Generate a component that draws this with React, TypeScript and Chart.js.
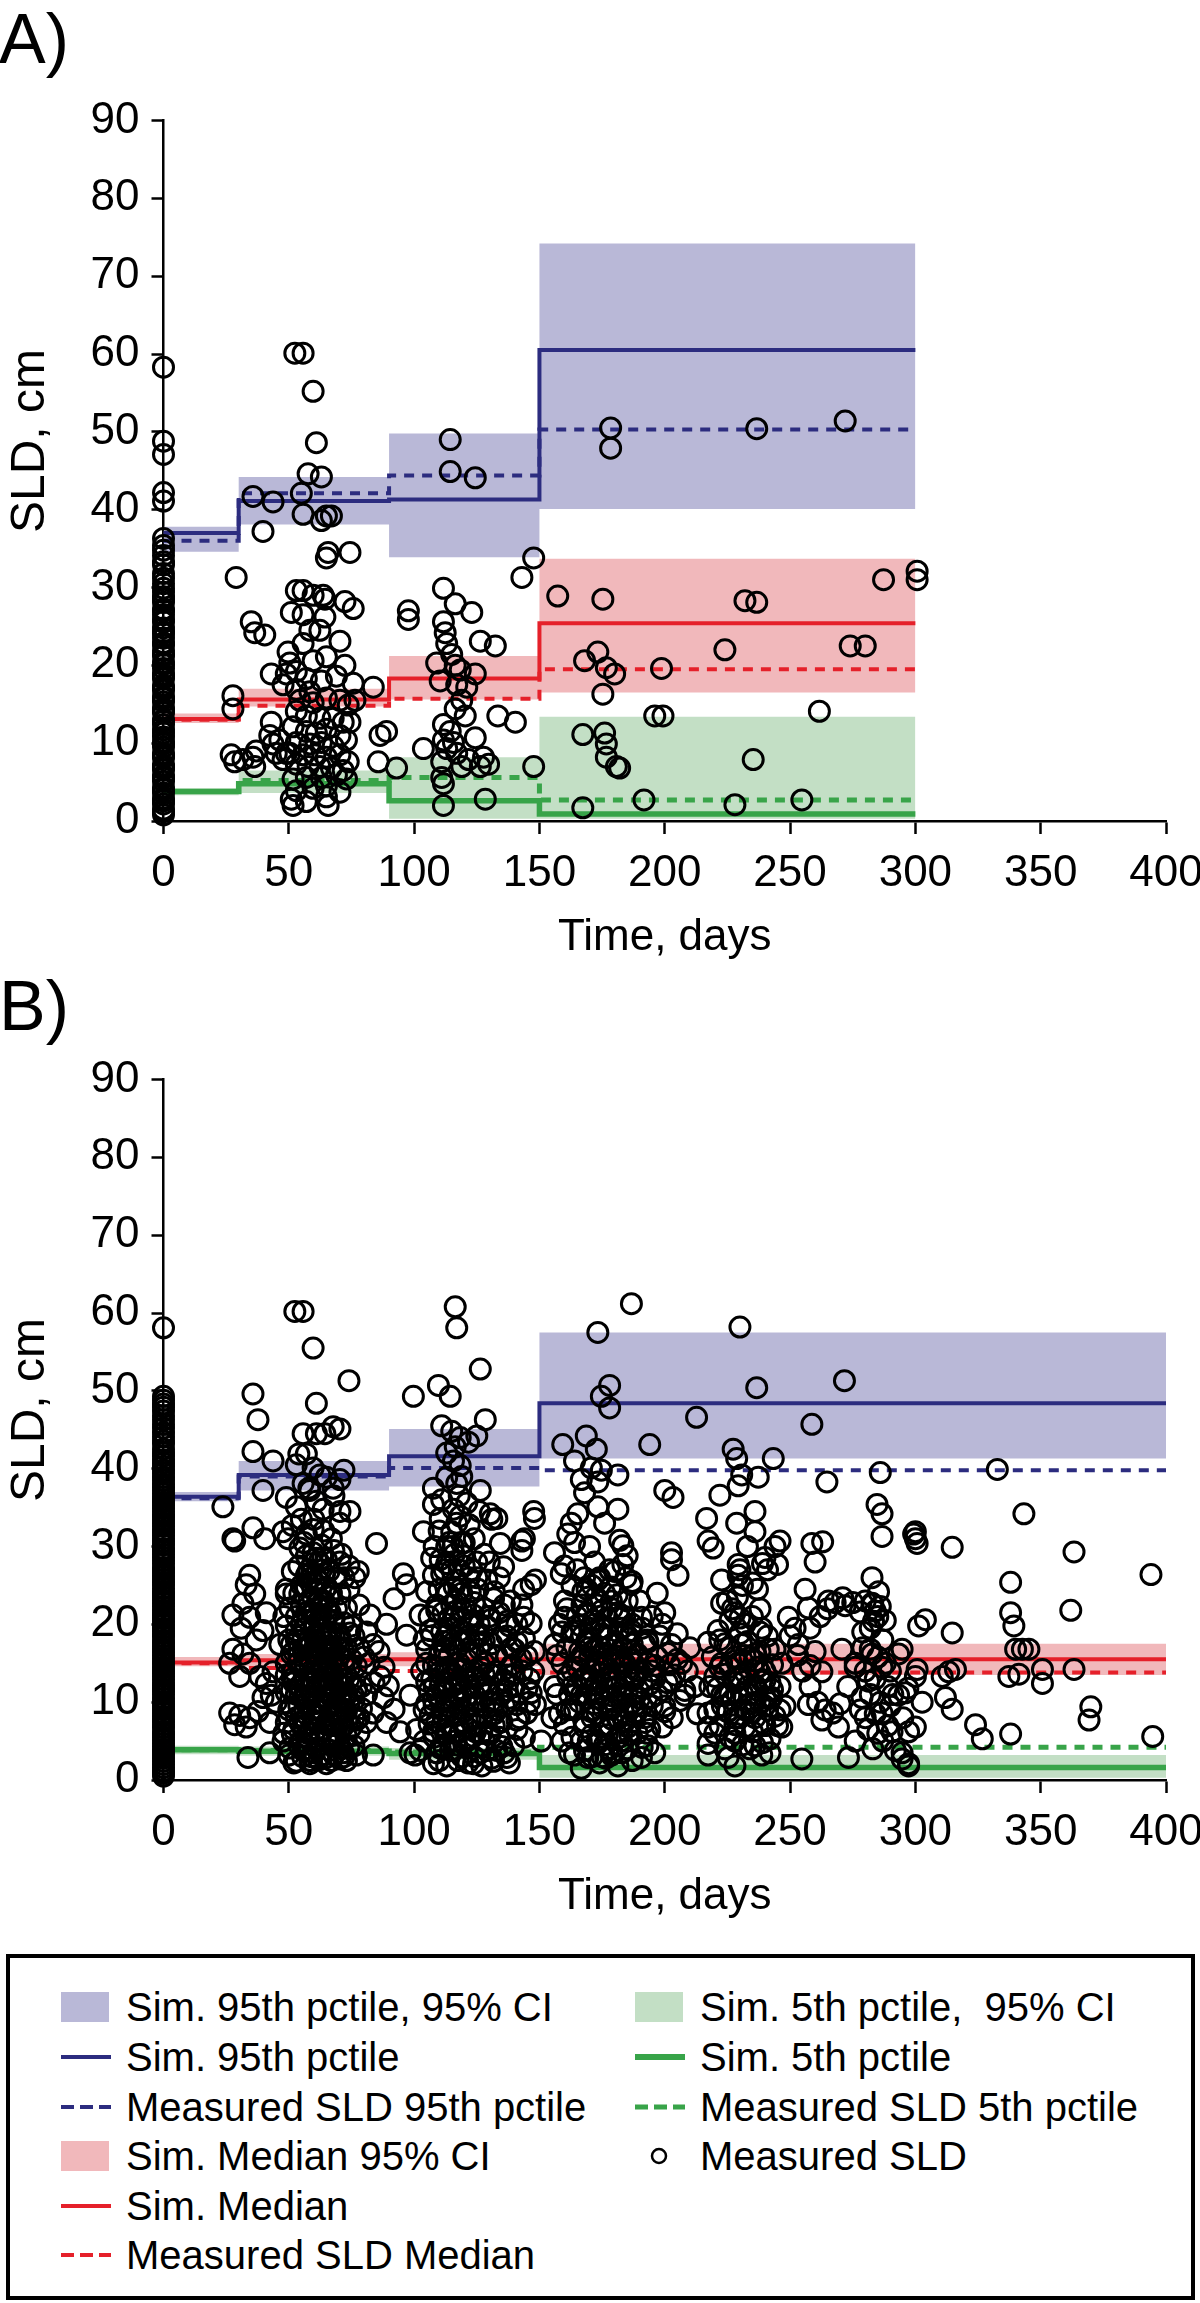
import React, { useEffect, useRef } from "react";
import { Chart, registerables } from "chart.js";

Chart.register(...registerables);

const FONT = '"Liberation Sans", Arial, Helvetica, sans-serif';

const BLUE_BAND = "#b9b8d7";
const NAVY = "#2c2c7f";
const RED_BAND = "#f1b8bb";
const RED = "#e5202a";
const GREEN_BAND = "#c3dfc5";
const GREEN = "#38a449";

// ---------- axis ticks ----------
const xTickLabels = [0, 50, 100, 150, 200, 250, 300, 350, 400];
const yTickLabels = [0, 10, 20, 30, 40, 50, 60, 70, 80, 90];

// ---------- Panel A (bins in days) ----------
const binEdgesA = [0, 30, 90, 150, 300];
const a95Sim = [37.0, 41.1, 41.3, 60.5];
const a95Lo = [34.6, 38.1, 33.9, 40.1];
const a95Hi = [37.8, 44.2, 49.8, 74.2];
const a95Meas = [36.0, 42.1, 44.4, 50.3];
const aMedSim = [13.1, 15.6, 18.3, 25.4];
const aMedLo = [12.6, 14.7, 15.6, 16.5];
const aMedHi = [13.8, 17.0, 21.2, 33.7];
const aMedMeas = [13.0, 14.8, 15.7, 19.5];
const a5Sim = [3.8, 4.8, 2.6, 0.9];
const a5Lo = [3.3, 3.6, 0.3, 0.3];
const a5Hi = [4.2, 6.5, 8.2, 13.4];
const a5Meas = [3.8, 5.2, 5.6, 2.7];

// measured SLD at day 0 (panel A)
const measA0 = [58.3, 48.8, 47.1, 42.2, 41.1, 36.3, 35.4, 34.8, 34.1, 33.3, 32.9, 31.8, 31.2, 30.5, 29.4, 28.8, 28.1, 27.2, 26.5, 25.9, 24.8, 24.3, 23.5, 22.6, 21.9, 21.2, 20.4, 19.6, 18.9, 18.3, 17.4, 16.8, 16.0, 15.3, 14.5, 13.9, 13.0, 12.4, 11.7, 10.8, 10.2, 9.5, 8.7, 8.1, 7.2, 6.6, 5.8, 5.1, 4.3, 3.6, 2.9, 2.2, 1.5,
  29.9, 28.5, 27.0, 25.6, 24.1, 22.9, 21.5, 20.1, 18.6, 17.1, 15.7, 14.2, 12.8, 11.3, 9.9, 8.4, 6.9, 5.5, 4.0, 2.6, 1.2, 0.8];

// measured SLD after day 0 (panel A): [day, cm]
const measA: [number, number][] = [
  [29,31.3],[27.7,16.1],[27.7,14.4],[27,8.5],[28.4,7.6],[35,25.6],[36.4,24.2],[40.4,23.9],[35.7,41.7],[43.7,41],[39.7,37.2],[31.7,7.9],[35.7,8.2],[37,9],[36.4,7],[43,18.9],[43,12.7],[42.4,11],[43.7,9.9],[45,8.7],[46.4,10.4],[49,8.7],[47.7,7.9],
  [52.4,60.1],[55.7,60.1],[59.7,55.2],[61,48.6],[57.7,44.6],[63,44.2],[55,42.1],[55.7,39.4],[63,38.6],[65,39.2],[67,39.2],[65.7,34.5],[74.4,34.5],[65,33.8],
  [53,29.6],[55.7,29.6],[59.7,29],[63.7,29],[64.4,28.5],[72.4,28.2],[75.7,27.3],[51,26.8],[55.7,26.5],[64.4,26.2],[58.4,24.5],[62.4,24.5],[70.4,23.1],[55.7,22.8],[49.7,21.7],[65,21.1],[50.4,20.3],[59.7,20.6],[72.4,20],[49,18.9],[53,19.2],[57,18.3],[63,18],[69,18.6],[47.7,17.5],[53,16.9],[58.4,16.6],[54.4,15.5],[59.7,15.2],[65,15.8],[70.4,15.5],[73.7,14.9],[53,14.1],[57,13.5],[62.4,13.2],[67.7,13.2],[71.7,12.7],[74.4,12.7],[51.7,12.1],[57,11.5],[61,11.3],[65,11.8],[70.4,11],[53,10.1],[58.4,9.9],[63,10.1],[67.7,9.6],[73,10.4],[50.4,8.7],[55.7,8.5],[60.4,8.5],[65,8.2],[70.4,8.5],[73.7,7.6],[53,7.3],[57.7,7],[62.4,7],[67,6.8],[71.7,6.5],[51.7,5.4],[57,5.6],[63,5.6],[69,5.9],[73,5.4],[53,3.9],[59.7,4.2],[65,4.5],[70.4,3.7],[51,2.8],[57,2.5],[65,3.1],[51.7,2],[65.7,2],
  [83.7,17.2],[86.4,11],[89,11.5],[85.7,7.6],[93,6.8],[75.7,17.7],[76.4,15.5],
  [97.7,27],[97.7,25.9],[103.7,9.3],[114.4,49],[114.4,44.9],[124.4,44.1],
  [111.7,29.9],[116.4,27.9],[123,26.8],[111.7,25.6],[112.4,24.2],[113,22.8],[126.4,23.1],[132.4,22.5],[115,21.4],[116.4,20],[118.4,19.4],[109,20.3],[124.4,18.9],[110.4,18],[117,17.5],[121,17.2],[119,15.5],[116.4,14.4],[120.4,13.5],[133.4,13.5],[140.4,12.7],[111.7,12.4],[114.4,11.5],[111.7,10.4],[115.7,10.1],[124.4,10.7],[113,9.3],[117,8.7],[121.7,7.9],[127.7,8.2],[129.7,7.3],[126.4,7],[119,7],[111,7.6],[111,5.6],[111.7,4.8],[111.7,2],[128.4,2.8],[147.7,7],[143,31.3],[147.7,33.8],
  [157.3,28.9],[175.3,28.5],[178.4,50.5],[178.4,47.9],[236.7,50.4],[272,51.4],[287.3,31],[300.7,32.1],[300.7,31],[232,28.3],[236.7,28.1],[274,22.5],[280,22.5],[224,22],[173.3,21.7],[168,20.6],[176.7,19.7],[180,18.9],[198.7,19.6],[175.3,16.3],[196,13.5],[199.3,13.5],[261.7,14.1],[167.3,11.1],[176,11.3],[176.7,9.9],[176.7,8.2],[180.7,7],[182,6.8],[235.3,7.9],[167.3,1.7],[191.7,2.7],[228,2.1],[254.7,2.7],
];

// ---------- Panel B ----------
const binEdgesB = [0, 30, 90, 150, 400];
const b95Sim = [36.4, 39.2, 41.6, 48.4];
const b95Lo = [35.8, 37.2, 37.7, 41.3];
const b95Hi = [37.0, 41.0, 45.1, 57.5];
const b95Meas = [36.2, 39.0, 40.1, 39.8];
const bMedSim = [15.1, 15.4, 15.5, 15.5];
const bMedLo = [14.6, 14.6, 14.6, 13.5];
const bMedHi = [15.8, 16.2, 16.4, 17.5];
const bMedMeas = [15.0, 14.4, 14.0, 13.8];
const b5Sim = [3.9, 3.7, 3.4, 1.6];
const b5Lo = [3.3, 3.1, 2.6, 0.3];
const b5Hi = [4.4, 4.3, 4.1, 3.2];
const b5Meas = [3.9, 3.8, 3.6, 4.2];

const measB0 = [58.1, 49.3, 48.3, 47.4, 46.3, 45.2, 44.1, 43.2, 42.0, 41.1, 40.3, 39.4, 38.5, 37.6, 36.8, 36.0, 35.3, 34.5, 33.8, 33.0, 32.1, 31.4, 30.6, 29.7, 29.0, 28.2, 27.3, 26.6, 25.8, 25.1, 24.2, 23.5, 22.7, 21.8, 21.1, 20.3, 19.5, 18.8, 17.9, 17.2, 16.4, 15.6, 14.9, 14.0, 13.3, 12.5, 11.7, 11.0, 10.1, 9.4, 8.6, 7.8, 7.1, 6.2, 5.5, 4.7, 3.9, 3.2, 2.4, 1.6, 0.9,
  48.8, 47.9, 46.8, 45.7, 44.6, 43.6, 42.5, 41.6, 40.7, 39.8, 38.9, 38.0, 37.2,
  36.4, 35.7, 34.9, 34.1, 33.4, 32.6, 31.8, 31.0, 30.2, 29.4, 28.6, 27.8, 27.0, 26.2, 25.4, 24.6, 23.9, 23.1, 22.3, 21.5, 20.7, 19.9, 19.1, 18.4, 17.6, 16.8, 16.0, 15.2, 14.4, 13.7, 12.9, 12.1, 11.4, 10.5, 9.8, 9.0, 8.2, 7.5, 6.7, 5.9, 5.1, 4.3, 3.6, 2.8, 2.0, 1.2, 0.5];

const measB: [number, number][] = [
  [23.7,35.1],[27.7,31],[28.4,30.7],[35.7,49.6],[37.7,46.3],[35.7,42.2],[43.7,41],[39.7,37.2],[35.7,32.4],[40.4,31],[34.4,26.3],[33,25.1],[36.4,23.9],[31.7,22.7],[27.7,21.2],[34.4,20.9],[31,19.5],[39.7,19.2],[37,18],[27.7,16.8],[31.7,16.2],[26.4,15],[34.4,15],[30.4,13.3],[38.4,13.3],[41,12.4],[43,10.9],[45,10],[39.7,10.6],[26.4,8.6],[30.4,8.3],[34.4,8],[37.7,8.8],[28.4,7.1],[33,6.8],[42.4,7.4],[33.7,2.9],[42.4,3.5],[47.7,5],[43.7,13.9],[46.4,17.4],[41,21.5],[49,23.9],[47.7,31.9],
  [52.4,60.2],[55.7,60.2],[59.7,55.5],[61,48.4],[74,51.3],[61,44.5],[64.4,44.5],[67.7,45.4],[70.4,45.1],[55.7,44.5],[54,41.9],[57,41.9],[59.7,40.1],[62.4,39.2],[65,38.9],[70.4,38.6],[55.7,38.1],[67.7,37.5],[58.4,37.2],[49,36.3],[53,35.1],[63.7,34.8],[70.4,34.5],[74.4,34.5],[51.4,32.7],[59.7,32.2],[70.4,33],[49.7,31],[54.4,29.8],[59.7,29.2],[65,28.3],[70.4,28],[77.7,26.8],[76.4,26],[51.4,26.8],[57,26.3],[49,24.5],[54.4,23.9],[59.7,24.5],[65,24.8],[70.4,23.9],[73,22.1],[50.4,22.1],[57,21.5],[63,21.2],[67.7,20.4],[49,19.8],[53,19.2],[59.7,19.2],[65,18.6],[70.4,18.3],[74.4,18.9],[51,17.4],[55.7,16.8],[61,17.1],[66.4,16.5],[71.7,16.8],[49,15],[53.7,15],[58.4,14.5],[63.7,14.7],[69,14.2],[74.4,14.5],[51.4,13],[56.4,12.7],[61,13],[66.4,12.4],[71.7,12.1],[49,11.2],[54.4,10.9],[59.7,11.2],[65,10.6],[70.4,10.6],[75.7,10.9],[51,9.4],[56.4,9.1],[61.7,9.1],[67,8.8],[72.4,9.1],[49,7.4],[54.4,7.4],[59.7,7.7],[65,7.1],[70.4,7.4],[77,7.7],[51.4,5.9],[57,5.6],[62.4,5.9],[67.7,5.3],[73,5.6],[50.4,4.1],[55.7,3.8],[61,4.1],[66.4,3.8],[71.7,3.5],[53,2.4],[58.4,2.1],[65,2.1],[70.4,2.7],[77,3.2],[83.7,3.2],
  [52,14],[56,17],[60,13.8],[62,16],[66,14],[68,12],[54,12],[58,10.5],[63,9],[67,11],[71,10],[55,20],[61,21],[64,23],[69,22],[58,27],[62,25.5],[66,26.8],[52,24],[60,6],[64,6.5],[68,4.5],[55,5],[59,3],[62,2.6],[57,9.8],[53,8],[66,17.8],[70,16],[72,14.8],[75,12.5],[74,9.8],[76,8],[78,6],[76,4.4],[79,12],[80,15.8],[81,19],[78,22.5],[57,31.6],[63,30.2],[67,31],[61,35.8],[55,33.5],[58,37.5],[53,40.5],[68,36.5],[72,39.8],
  [50,3.2],[52,6.5],[54,9.5],[56,13],[58,15.8],[60,18.5],[62,20.5],[64,12.8],[66,9.6],[68,7],[70,5],[72,3],[51,11.5],[53,18],[55,22.5],[57,24.8],[59,26],[61,28.5],[63,27],[65,22],[67,19],[69,17.2],[71,13.5],[73,11.2],[54,27.5],[56,30.5],[60,33.5],[64,32],[68,29.5],[72,26],[74,24.5],[52,16.5],[55,14.5],[57,7.2],[59,9],[61,11.8],[63,14.5],[65,16.2],[67,15],[69,9.8],[71,7.8],[73,17],[75,19.8],[77,14.6],[79,9.2],[81,11],[82,15],[84,12.5],[86,16.5],[88,14.5],
  [85,30.4],[82.4,21.2],[83.7,17.4],[89,20],[92,23.3],[86.4,13.3],[89.7,12.1],[87.7,10.6],[92,9.1],[83.7,8.6],[89,7.4],[81,7.4],[95.7,26.5],[97,25.1],[99.7,49.3],[97,18.6],[98.4,10.9],[94.4,6.2],[98.4,3.5],[102.4,3.8],
  [116.4,60.8],[117,58.1],[126.4,52.8],[109.7,50.7],[114.4,49.3],[128.4,46.3],[115,44.8],[118.4,44],[116.4,42.8],[121.7,43.4],[125,44.2],[115.7,41],[118.4,40.4],[113,38.9],[117,38.1],[107.7,37.5],[126.4,37.2],[111,36],[115.7,34.8],[107.7,35.4],[118.4,33.9],[110.4,33.6],[130.4,34.2],[133,33.6],[103.7,31.9],[115,31.9],[119,30.4],[134.4,30.4],[143,30.7],[143,29.5],[147.7,34.5],[110.4,28.3],[125,28],[135.7,27.4],[143.7,24.5],[148.4,25.7],[107.7,26.3],[117,25.7],[129,25.7],[105,24.2],[113,23.9],[122.4,24.2],[131.7,23.3],[138.4,23],[102.4,21.2],[109,21.8],[115.7,20.9],[123.7,21.2],[130.4,20.6],[137,20.4],[143.7,20.9],[106.4,19.2],[113,18.6],[118.4,19.2],[125,18.6],[134.4,18.3],[141,17.7],[105,16.8],[110.4,16.5],[117,16.8],[122.4,16.2],[129,16.2],[137,15.9],[145,15.9],[107.7,14.7],[113,14.5],[119.7,14.2],[126.4,14.5],[133,13.9],[139.7,13.6],[147.7,13.9],[105,12.7],[110.4,12.1],[116.4,12.4],[122.4,12.1],[129,11.8],[137,11.5],[145,11.8],[107.7,10.3],[113,10],[118.4,10.3],[123.7,9.7],[130.4,10],[141,9.7],[148.4,9.7],[106.4,8.3],[111.7,8],[117,8.3],[122.4,7.7],[129,8],[134.4,7.4],[141,7.7],[107.7,6.2],[113,5.9],[118.4,6.2],[123.7,5.6],[130.4,5.9],[110.4,4.1],[115.7,3.8],[121,4.1],[126.4,3.5],[133,3.8],[139.7,4.4],[107.7,2.1],[113,1.8],[123.7,2.1],[131.7,2.4],[137,2.9],[100.4,3.2],
  [108,30],[112,27],[116,29],[120,27.5],[125,26],[128,22],[114,19.5],[119,21.8],[122,18],[126,20],[110,16],[114,14],[118,12.8],[121,10.8],[125,13.2],[128,15],[131,17.5],[134,12.3],[136,9.5],[139,14.8],[142,11.2],[145,8.6],[112,9],[116,6.8],[120,4.8],[124,3],[128,5],[132,7],[135,4.3],[138,2.2],[109,7.5],[106,11.5],[104,18],[103,14],[101,6.5],[117,33],[121,35.6],[124,31],[128,29],[131,33.5],[113,42],[119,39],[111,45.5],
  [104,9],[106,21],[108,12],[109,3.5],[110,24.5],[111,19],[112,11.8],[113,6.5],[114,16],[115,22.5],[116,10.5],[117,4.5],[118,15],[119,24],[120,8.8],[121,13],[122,20],[123,27],[124,11],[125,7],[126,16.8],[127,12.5],[128,9.5],[129,19.8],[130,6],[131,13.5],[132,10],[133,16],[134,21.5],[135,7.5],[136,12.8],[137,18.5],[138,10.5],[140,16.8],[141,6.5],[143,14],[144,18.2],[146,10],[110,32],[114,30.5],[118,36.5],[122,32.8],[126,34.5],[130,28],[113,27.8],[107,28.5],[105,9.8],[127,1.8],
  [186.7,61.2],[173.3,57.5],[230,58.2],[178,50.7],[174.7,49.3],[178,47.8],[236.7,50.4],[271.7,51.3],[212.7,46.6],[258.7,45.7],[159.3,43.1],[168.7,44.2],[172.7,42.5],[194,43.1],[164,41],[170.7,40.1],[174.7,39.8],[181.3,39.2],[227.3,42.5],[228.7,41.3],[243.3,41.3],[166.7,38.6],[173.3,38.3],[230.7,39.2],[237.3,38.9],[286,39.5],[264.7,38.3],[168,36.9],[203.3,36.3],[200,37.2],[222,36.6],[229.3,37.8],[173.3,35.1],[181.3,34.8],[165.3,34.2],[284.7,35.4],[286.7,34.2],[148,33.6],[162.7,33],[176,33],[216.7,33.6],[228.7,33],[161.3,31.6],[236,31.9],[286.7,31.3],[144,31],[217.3,30.7],[219.3,29.8],[246,30.7],[258.7,30.4],[299.3,31.6],[300.7,30.4],[156,29.2],[183.3,30.1],[202.7,28.3],[202.7,29.2],[240,28.6],[229.3,27.7],[245,27.7],[158.7,26.5],[183.3,27.7],[222.7,25.7],[229.3,26.3],[146.7,25.1],[173.3,25.7],[186.7,25.1],[205.3,26.3],[282.7,26],[285.3,24.2],[167.3,24.2],[178.7,23],[222.7,22.7],[228,21.5],[265.3,23],[272,22.4],[280,23],[282.7,22.7],[257.3,22.1],[160,20.9],[169.3,21.2],[181.3,21.5],[190.7,20.9],[200,21.5],[249.3,20.9],[146.7,20.1],[164,19.2],[174.7,19.5],[186.7,19.2],[221.3,19.2],[238.7,19.5],[252,19.5],[283.3,20.4],[301.3,19.8],
  [156,17.4],[169.3,17.7],[178.7,17.4],[193.3,17.7],[202.7,17.4],[217.3,17.7],[230.7,17.4],[241.3,16.8],[253.3,17.4],[260,16.5],[270.7,16.8],[282.7,16.2],[293.3,16.2],[142.7,15.6],[165.3,15.3],[173.3,15],[182.7,15.3],[196,14.7],[206.7,15],[222.7,15],[236,15.3],[246.7,15],[258,14.7],[276,15],[286.7,14.5],[161.3,13.3],[170.7,13],[177.3,13.3],[188,13],[202.7,12.7],[220,13.3],[229.3,13],[238.7,12.7],[262.7,13.9],[281.3,12.7],[300,13.3],[146.7,11.2],[166.7,10.9],[173.3,11.2],[182.7,10.9],[194.7,10.6],[208,10.9],[222.7,10.9],[240,10.6],[242.7,10.6],[257.3,9.7],[278.7,10.6],[293.3,10.9],[162.7,9.1],[170.7,8.8],[178.7,9.1],[188,8.6],[200,8.8],[217.3,8.6],[225.3,8.8],[234.7,8.6],[262.7,7.7],[269.3,6.8],[280,8],[286.7,8.6],[160,7.1],[168,6.8],[176,7.1],[185.3,6.8],[192,7.4],[217.3,6.8],[228,7.1],[246.7,6.8],[290.7,6.2],[150.7,5],[166.7,5],[173.3,4.7],[182.7,5],[193.3,4.4],[217.3,4.7],[228,5],[236,4.4],[276,5],[164,3.2],[169.3,2.9],[178.7,3.2],[190.7,2.9],[217.3,3.2],[225.3,2.9],[238.7,3.2],[254.7,2.7],[273.3,2.9],[294.7,2.7],[166.7,1.5],[181.3,1.8],[228,1.8],[297.3,1.8],
  [158,20],[161,17],[163,14],[165,12],[167,22.5],[169,18],[170,15.8],[171,11.5],[172,9.8],[174,13.8],[175,21.8],[177,16],[178,11.8],[179,7.8],[180,13],[181,23.8],[183,17],[184,12],[185,9.2],[186,15.5],[187,20],[188,11],[189,6],[190,14],[192,17.5],[194,12.3],[195,9.5],[197,15.8],[199,11.5],[201,16.3],[204,13.5],[206,10.2],[209,14],[212,12],[160,27.5],[164,30.5],[168,26],[172,28],[176,24],[180,26.8],[185,28.8],[190,23],[163,5.5],[168,3.8],[171,5.8],[176,4.5],[183,3.5],[186,5.8],[191,4.2],[196,3.5],
  [156,12],[158,8.5],[159,15],[160,23],[162,11],[163,19],[164,9],[166,16.5],[167,13],[168,7.5],[169,24.5],[170,19.5],[171,3],[172,16.8],[173,8.5],[174,26],[175,12.5],[176,7],[177,20.8],[178,14.2],[179,22],[180,10],[181,17.5],[182,5.5],[183,14.5],[184,21],[185,11],[186,18.2],[187,7.5],[188,13.5],[189,16.2],[190,10.5],[191,19.5],[192,8],[193,15],[194,6.5],[196,13],[198,18.5],[200,9.5],[202,14.8],[205,18.8],[208,11.5],[165,27],[170,30],[178,27],[182,30.8],[187,25.5],
  [219,15.8],[221,11.8],[223,9.5],[224,13.6],[226,17],[227,10.3],[228,12.5],[229,15],[230,8],[231,11.1],[232,13.8],[233,17.8],[234,9.8],[235,6.2],[236,12.2],[237,14.5],[238,10],[239,7.3],[240,12.8],[241,9],[242,5.3],[243,11.6],[244,8.2],[226,20.5],[229,23.5],[232,20],[235,25.3],[238,22],[241,27],[244,30],
  [220,6],[222,18],[224,4],[225,8.8],[226,14.5],[227,22],[228,6],[229,10.8],[230,18.8],[231,4.5],[232,9],[233,12],[234,15.8],[235,21],[236,8],[237,11.5],[238,16.5],[239,4.8],[240,14],[241,18.5],[242,10.5],[243,14.8],[245,7],[246,12],[248,9.5],[230,27],[233,30],[236,34.5],
  [250,18.5],[253,16],[255,14],[258,12],[261,10],[264,9],[267,8.6],[270,9.8],[273,12],[276,14.5],[279,17],[282,19.5],[284,21.7],[286,22.3],[283,22.6],[285,21],[287,18],[288,15],[289,12],[290,9.5],[282,11],[284,8.5],[285,6],[292,3.8],[295,8],[297,11.8],[262,21],[265,22],[268,22.8],[271,23.4],[275,22.8],[278,21.6],[258,19.5],[256,24.5],[260,28],[263,30.6],
  [332.7,39.9],[343.3,34.2],[300,31.9],[300,31],[314.7,29.9],[363.3,29.3],[394,26.4],[338,25.4],[304,20.6],[362,21.8],[314.7,18.9],[338,21.5],[339.3,19.8],[294.7,16.8],[340,16.8],[342.7,16.8],[345.3,16.8],[300.7,14.2],[310.7,13.3],[313.3,13.9],[316,14.2],[337.3,13.3],[341.3,13.6],[350.7,14.2],[350.7,12.4],[363.3,14.2],[296,11.2],[302.7,10],[312,10.6],[314.7,9.1],[370,9.4],[369.3,7.7],[324,7.1],[326.7,5.3],[338,5.9],[300,6.8],[297.3,6.2],[394.7,5.6],[297.3,2.1],[294.7,3.5],
];

// the densest clusters of panel B (visit windows around days 60, 120, 175, 230, 285)
const measBDense: [number, number][] = [
  [48,6],[50,9],[52,12.5],[54,16],[56,19.5],[58,23],[60,25.5],[62,28],[64,26.5],[66,23.5],[68,20.5],[70,18.8],[72,15.5],[74,13],[76,10.2],[78,8],[49,13.5],[51,16.2],[53,21],[55,25],[57,28.8],[59,21.5],[61,18],[63,16.8],[65,13.2],[67,8.2],[69,6.2],[71,4],[73,2.5],[75,6.8],[77,11.8],[52,2.2],[54,4.5],[56,6.8],[58,5.2],[60,3.5],[62,8.2],[64,10.5],[66,5.8],[68,3.2],[70,12.2],[72,20.2],[74,27.5],[56,10.5],[59,12.5],[61,15.2],[63,19.5],[65,20.8],[67,24],[69,26],[71,29],[55,8.2],[53,11],[50,18],[48,21],[58,18],[60,21.5],[62,23],[64,17.8],[66,12],[68,15.8],[70,9],[72,7],[74,4.2],[57,4],[61,6.5],[63,3.2],[65,5.2],[67,2.5],[69,12.8],[71,11],[73,8.8],[75,15.5],[76,18.5],[78,17],
  [104,5],[106,7.2],[108,9.5],[110,13.8],[112,16.8],[114,20.8],[116,24.8],[118,27],[120,30.5],[122,26],[124,22.8],[126,18.5],[128,13.5],[130,11.5],[132,8.5],[134,5.5],[136,3.5],[105,15],[107,18.5],[109,22.5],[111,26.5],[113,30],[115,27],[117,23],[119,18],[121,15.5],[123,14],[125,10],[127,6],[129,3.8],[131,2.8],[133,9],[135,11],[137,13.5],[139,17],[141,20],[143,22.5],[108,5.5],[110,2.5],[112,4.2],[114,8.8],[116,12.2],[118,9.2],[120,11.5],[122,5.2],[124,8],[126,12],[128,17.8],[130,21],[132,24.2],[134,26],[136,22.5],[138,19.8],[140,12],[142,8],[144,5.5],[146,13],[148,16.5],[115,17.5],[119,3],[121,6.8],[117,14.2],[113,12.5],[111,7],[109,11],[107,13],
  [155,8],[157,11],[159,5],[161,9],[163,12],[165,14.5],[167,18.5],[169,21.5],[171,25],[173,22.5],[175,18.8],[177,13],[179,10.8],[181,8],[183,6.2],[185,4],[187,2.5],[189,8.8],[191,12.5],[193,18],[195,21],[197,24],[199,20],[157,16],[159,19],[161,22],[163,25],[165,21],[167,16],[169,12.5],[171,8],[173,5],[175,3],[177,5.8],[179,3.5],[181,12],[183,19.5],[185,23],[187,17.5],[189,14],[191,9.5],[193,6],[195,14],[197,11],[199,6.8],[201,12.5],[203,8],[205,15.5],[210,17],[213,8.5],[166,10],[168,13.2],[170,17],[172,20],[174,10.5],[176,14.8],[178,18.5],[180,16],[182,21],[184,15],[186,13],[188,9.5],[174,2.2],[178,7],[184,7.5],[162,3.5],
  [218,12],[220,9],[222,14.5],[224,17.5],[226,11],[228,8],[230,13.2],[232,16],[234,11],[236,10],[238,13.8],[240,9.5],[242,12.5],[244,16.8],[246,9],[222,7],[224,10.8],[226,5.5],[228,15.8],[230,20.8],[232,6.8],[234,4],[236,16.2],[238,19],[240,7],[242,3.5],[225,23],[231,25],[237,24.5],[239,27.8],
  [280,14],[281,6.5],[282,16.8],[283,4],[284,13],[285,15.8],[286,10],[287,5],[288,20.5],[289,7],[290,14],[291,11],[278,9],[279,19],
  // darkest cores
  [55.5,3],[57.5,6],[59.5,8.5],[61.5,10],[63.5,12],[65.5,14.8],[67.5,17],[56.5,15],[58.5,17.2],[60.5,20],[62.5,22],[64.5,24.5],[66.5,21.5],[55.5,18],[57.5,20.5],[59.5,23.5],[61.5,25.8],[63.5,22.8],[65.5,19],[67.5,13.5],[56.5,11.8],[58.5,13],[60.5,16.5],[62.5,18.8],[64.5,15.5],[66.5,10.8],[68.5,8.5],[60.5,9.8],[62.5,5],[64.5,2.8],[58.5,2.5],[66.5,7.5],[57.5,26.5],[63.5,28.5],[59.5,27.8],
  [110.5,10],[112.5,14],[114.5,18],[116.5,21],[118.5,24.5],[120.5,22],[122.5,16.5],[124.5,13],[111.5,21.5],[113.5,24],[115.5,13.5],[117.5,11],[119.5,7.5],[121.5,9.5],[123.5,20.5],[125.5,24.5],[112.5,6],[114.5,3.8],[116.5,5],[118.5,20.8],[120.5,17.8],[122.5,12],[109.5,14.5],[111.5,17.8],[113.5,9.5],[115.5,30],[119.5,28.8],[117.5,2.5],[121.5,2.2],[124.5,6.2],
  [168.5,11],[170.5,14],[172.5,12.2],[174.5,17],[176.5,19.5],[178.5,9.5],[180.5,12],[182.5,15.8],[184.5,18.8],[186.5,9.8],[169.5,5],[171.5,20.5],[173.5,15.2],[175.5,9.2],[177.5,4],[179.5,15.5],[181.5,19],[183.5,10.5],[185.5,13.8],[187.5,15],[166.5,19.8],[172.5,23.5],[178.5,24.8],[184.5,26],[170.5,9],[176.5,2.8],[180.5,5.2],[174.5,6.8],
];

// ---------- helpers ----------
function steps(edges: number[], vals: number[]) {
  return edges.map((x, i) => ({ x, y: vals[Math.min(i, vals.length - 1)] }));
}

type PanelSpec = {
  edges: number[];
  hi95: number[]; lo95: number[]; sim95: number[]; meas95: number[];
  hiMed: number[]; loMed: number[]; simMed: number[]; measMed: number[];
  hi5: number[]; lo5: number[]; sim5: number[]; meas5: number[];
  zeroCol: number[];
  pts: [number, number][];
  titleY: number;
};

const yTitlePlugin = {
  id: "ytitle",
  afterDraw(chart: any, _args: any, opts: any) {
    const ctx = chart.ctx;
    ctx.save();
    ctx.translate(opts.x, opts.y);
    ctx.rotate(-Math.PI / 2);
    ctx.font = `48px ${FONT}`;
    ctx.fillStyle = "#000";
    ctx.textAlign = "center";
    ctx.textBaseline = "middle";
    ctx.fillText(opts.text, 0, 0);
    ctx.restore();
  },
};

function buildConfig(p: PanelSpec): any {
  const bandPair = (hi: number[], lo: number[], color: string) => [
    { data: steps(p.edges, hi), stepped: "before", borderColor: "rgba(0,0,0,0)", borderWidth: 1, pointRadius: 0, fill: "+1", backgroundColor: color, order: 5 },
    { data: steps(p.edges, lo), stepped: "before", borderColor: "rgba(0,0,0,0)", borderWidth: 1, pointRadius: 0, fill: false, order: 5 },
  ];
  const stepLine = (vals: number[], color: string, width: number, dashed: boolean) => ({
    data: steps(p.edges, vals), stepped: "before", borderColor: color, borderWidth: width,
    borderDash: dashed ? [10, 8] : [], pointRadius: 0, fill: false, order: dashed ? 3 : 2, clip: false,
  });
  const points = [
    ...p.zeroCol.map((y) => ({ x: 0, y })),
    ...p.pts.map(([x, y]) => ({ x, y })),
  ];
  return {
    type: "line",
    data: {
      datasets: [
        ...bandPair(p.hi95, p.lo95, BLUE_BAND),
        ...bandPair(p.hiMed, p.loMed, RED_BAND),
        ...bandPair(p.hi5, p.lo5, GREEN_BAND),
        stepLine(p.meas95, NAVY, 4, true),
        stepLine(p.measMed, RED, 4, true),
        stepLine(p.meas5, GREEN, 5, true),
        stepLine(p.sim95, NAVY, 4, false),
        stepLine(p.simMed, RED, 4, false),
        stepLine(p.sim5, GREEN, 5.5, false),
        {
          data: points, showLine: false, pointRadius: 10, pointBorderWidth: 3,
          pointBorderColor: "#000", pointBackgroundColor: "rgba(0,0,0,0)", order: 1, clip: false,
        },
      ],
    },
    options: {
      responsive: false,
      animation: false,
      devicePixelRatio: 1,
      events: [],
      elements: { line: { tension: 0 } },
      layout: { padding: { top: 120.5, left: 0, right: 34, bottom: 0 } },
      plugins: {
        legend: { display: false },
        tooltip: { enabled: false },
        ytitle: { x: 31, y: p.titleY, text: "SLD, cm" },
      },
      scales: {
        x: {
          type: "linear", position: "bottom",
          min: xTickLabels[0], max: xTickLabels[xTickLabels.length - 1],
          afterBuildTicks: (s: any) => { s.ticks = xTickLabels.map((v) => ({ value: v })); },
          ticks: { font: { family: FONT, size: 44 }, color: "#000", padding: 13, maxRotation: 0, autoSkip: false },
          grid: { display: true, drawOnChartArea: false, drawTicks: true, tickLength: 13, tickWidth: 2.5, tickColor: "#000" },
          border: { display: true, color: "#000", width: 2.5 },
          title: { display: true, text: "Time, days", font: { family: FONT, size: 44 }, color: "#000", padding: { top: 0, bottom: 11 } },
          afterFit: (s: any) => { s.height = 154; s.paddingLeft = 0; s.paddingRight = 0; },
        },
        y: {
          type: "linear",
          min: yTickLabels[0], max: yTickLabels[yTickLabels.length - 1],
          afterBuildTicks: (s: any) => { s.ticks = yTickLabels.map((v) => ({ value: v })); },
          ticks: { font: { family: FONT, size: 44 }, color: "#000", padding: 12, autoSkip: false },
          grid: { display: true, drawOnChartArea: false, drawTicks: true, tickLength: 12, tickWidth: 2.5, tickColor: "#000" },
          border: { display: true, color: "#000", width: 2.5 },
          afterFit: (s: any) => { s.width = 163.5; s.paddingTop = 0; s.paddingBottom = 0; },
        },
      },
    },
    plugins: [yTitlePlugin],
  };
}

const panelA: PanelSpec = {
  edges: binEdgesA,
  hi95: a95Hi, lo95: a95Lo, sim95: a95Sim, meas95: a95Meas,
  hiMed: aMedHi, loMed: aMedLo, simMed: aMedSim, measMed: aMedMeas,
  hi5: a5Hi, lo5: a5Lo, sim5: a5Sim, meas5: a5Meas,
  zeroCol: measA0, pts: measA, titleY: 441,
};
const panelB: PanelSpec = {
  edges: binEdgesB,
  hi95: b95Hi, lo95: b95Lo, sim95: b95Sim, meas95: b95Meas,
  hiMed: bMedHi, loMed: bMedLo, simMed: bMedSim, measMed: bMedMeas,
  hi5: b5Hi, lo5: b5Lo, sim5: b5Sim, meas5: b5Meas,
  zeroCol: measB0, pts: [...measB, ...measBDense], titleY: 451,
};

function PanelChart({ top, spec }: { top: number; spec: PanelSpec }) {
  const ref = useRef<HTMLCanvasElement>(null);
  useEffect(() => {
    const chart = new Chart(ref.current as HTMLCanvasElement, buildConfig(spec));
    return () => chart.destroy();
  }, [spec]);
  return (
    <canvas
      ref={ref}
      width={1200}
      height={975}
      style={{ position: "absolute", left: 0, top, width: 1200, height: 975 }}
    />
  );
}

type LegendItem = { kind: "box" | "line" | "dash" | "circle"; color?: string; width?: number; label: string };

const legendLeft: LegendItem[] = [
  { kind: "box", color: BLUE_BAND, label: "Sim. 95th pctile, 95% CI" },
  { kind: "line", color: NAVY, width: 4, label: "Sim. 95th pctile" },
  { kind: "dash", color: NAVY, width: 4, label: "Measured SLD 95th pctile" },
  { kind: "box", color: RED_BAND, label: "Sim. Median 95% CI" },
  { kind: "line", color: RED, width: 4, label: "Sim. Median" },
  { kind: "dash", color: RED, width: 4, label: "Measured SLD Median" },
];
const legendRight: LegendItem[] = [
  { kind: "box", color: GREEN_BAND, label: "Sim. 5th pctile,  95% CI" },
  { kind: "line", color: GREEN, width: 6, label: "Sim. 5th pctile" },
  { kind: "dash", color: GREEN, width: 5, label: "Measured SLD 5th pctile" },
  { kind: "circle", label: "Measured SLD" },
];
const legendRowCenters = [2007, 2057, 2107, 2156, 2206, 2255];

function Glyph({ item }: { item: LegendItem }) {
  return (
    <svg width={50} height={50} viewBox="0 0 50 50" style={{ position: "absolute", left: 0, top: 0 }}>
      {item.kind === "box" && <rect x={0} y={10} width={48} height={30} fill={item.color} />}
      {item.kind === "line" && <line x1={0} y1={25} x2={50} y2={25} stroke={item.color} strokeWidth={item.width} />}
      {item.kind === "dash" && (
        <line x1={0} y1={25} x2={50} y2={25} stroke={item.color} strokeWidth={item.width} strokeDasharray="13 6" />
      )}
      {item.kind === "circle" && <circle cx={24} cy={25} r={7} fill="none" stroke="#000" strokeWidth={2.5} />}
    </svg>
  );
}

function LegendColumn({ items, glyphX, textX }: { items: LegendItem[]; glyphX: number; textX: number }) {
  return (
    <>
      {items.map((it, i) => (
        <div key={i} style={{ position: "absolute", left: 0, top: legendRowCenters[i] - 25, width: 1200, height: 50 }}>
          <div style={{ position: "absolute", left: glyphX, top: 0, width: 50, height: 50 }}>
            <Glyph item={it} />
          </div>
          <div
            style={{
              position: "absolute", left: textX, top: 0, height: 50, lineHeight: "50px",
              fontFamily: FONT, fontSize: 40, color: "#000", whiteSpace: "pre",
            }}
          >
            {it.label}
          </div>
        </div>
      ))}
    </>
  );
}

export default function App() {
  const label = (text: string, top: number) => (
    <div
      style={{
        position: "absolute", left: -1, top, fontFamily: FONT, fontSize: 70,
        lineHeight: "70px", color: "#000", whiteSpace: "pre",
      }}
    >
      {text}
    </div>
  );
  return (
    <div style={{ position: "absolute", left: 0, top: 0, width: 1200, height: 2303, background: "#fff", overflow: "hidden" }}>
      {label("A)", 4)}
      {label("B)", 971)}
      <PanelChart top={0} spec={panelA} />
      <PanelChart top={959} spec={panelB} />
      <div
        style={{
          position: "absolute", left: 6, top: 1954, width: 1189, height: 346,
          border: "4px solid #000", boxSizing: "border-box",
        }}
      />
      <LegendColumn items={legendLeft} glyphX={61} textX={126} />
      <LegendColumn items={legendRight} glyphX={635} textX={700} />
    </div>
  );
}
